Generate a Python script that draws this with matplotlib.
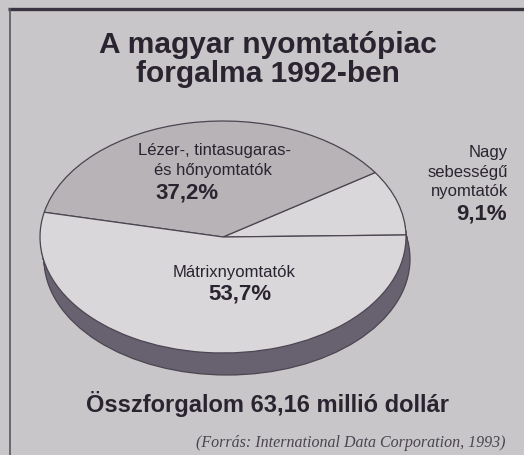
import matplotlib
matplotlib.use("Agg")
import matplotlib.pyplot as plt
from matplotlib.patches import Ellipse
import numpy as np

# data
labels = ["Nagy sebességű nyomtatók", "Lézer-, tintasugaras- és hőnyomtatók", "Mátrixnyomtatók"]
shares = [9.1, 37.2, 53.7]
pct_text = ["9,1%", "37,2%", "53,7%"]
title_lines = ["A magyar nyomtatópiac", "forgalma 1992-ben"]
total_text = "Összforgalom 63,16 millió dollár"
source_text = "(Forrás: International Data Corporation, 1993)"

W, H = 524, 456
bg = "#c8c6c8"
c_dark_slice = "#b7b3b7"
c_light_slice = "#d9d7d9"
c_side = "#686170"
c_line = "#4d4652"
c_text = "#2a2430"

fig = plt.figure(figsize=(W / 100, H / 100), dpi=100)
fig.patch.set_facecolor(bg)

# pie geometry (pixels)
cx, cy, a, b = 223, 238, 183, 116
dx, dy = 4, 22
left, right = cx - a - 6, cx + a + 10
top, bottom = cy - b - 2, cy + b + dy + 6
pax = fig.add_axes([left / W, (H - bottom) / H, (right - left) / W, (bottom - top) / H])
pax.set_facecolor("none")

# side of the disc
for k in np.linspace(0, 1, 40):
    pax.add_patch(Ellipse((k * dx / a, -k * dy / b), 2, 2, facecolor=c_side, edgecolor="none", zorder=1))
pax.add_patch(Ellipse((dx / a, -dy / b), 2, 2, facecolor="none", edgecolor=c_line, lw=0.9, zorder=1))

wedges, _ = pax.pie(shares, startangle=1, counterclock=True,
                    colors=[c_light_slice, c_dark_slice, c_light_slice],
                    wedgeprops=dict(edgecolor=c_line, linewidth=0.9, zorder=3))
pax.set_aspect("auto")
pax.set_xlim((left - cx) / a, (right - cx) / a)
pax.set_ylim(-(bottom - cy) / b, (cy - top) / b)
pax.axis("off")

# full-figure axes in pixel coords for frame and texts (on top of the pie)
ax = fig.add_axes([0, 0, 1, 1])
ax.set_zorder(5)
ax.patch.set_visible(False)
ax.set_xlim(0, W)
ax.set_ylim(H, 0)
ax.axis("off")
ax.plot([8, W], [9.5, 9.5], color="#3a3440", lw=2.4, solid_capstyle="butt")
ax.plot([9.5, 9.5], [9, H], color="#5a5460", lw=1.2, solid_capstyle="butt")

sans = ["Liberation Sans", "DejaVu Sans"]
bold_kw = dict(fontweight="bold", family=sans, color=c_text)
ax.text(268, 53, title_lines[0], ha="center", va="baseline", fontsize=21.5, **bold_kw)
ax.text(268, 82, title_lines[1], ha="center", va="baseline", fontsize=21.5, **bold_kw)

# labels
lab_kw = dict(family=sans, color=c_text)
ax.text(215, 155, "Lézer-, tintasugaras-", ha="center", va="baseline", fontsize=12, **lab_kw)
ax.text(213, 175, "és hőnyomtatók", ha="center", va="baseline", fontsize=12, **lab_kw)
ax.text(155, 199, pct_text[1], ha="left", va="baseline", fontsize=16, **bold_kw)

ax.text(234, 277, "Mátrixnyomtatók", ha="center", va="baseline", fontsize=12, **lab_kw)
ax.text(240, 300, pct_text[2], ha="center", va="baseline", fontsize=16, **bold_kw)

ax.text(508, 157, "Nagy", ha="right", va="baseline", fontsize=12, **lab_kw)
ax.text(508, 177, "sebességű", ha="right", va="baseline", fontsize=12, **lab_kw)
ax.text(508, 196, "nyomtatók", ha="right", va="baseline", fontsize=12, **lab_kw)
ax.text(507, 220, pct_text[0], ha="right", va="baseline", fontsize=16, **bold_kw)

ax.text(267, 412, total_text, ha="center", va="baseline", fontsize=17, **bold_kw)
ax.text(505, 447, source_text, ha="right", va="baseline", fontsize=11.5, style="italic",
        family=["Liberation Serif", "DejaVu Serif"], color="#4a4450")

fig.savefig("out.png", dpi=100, facecolor=bg)
